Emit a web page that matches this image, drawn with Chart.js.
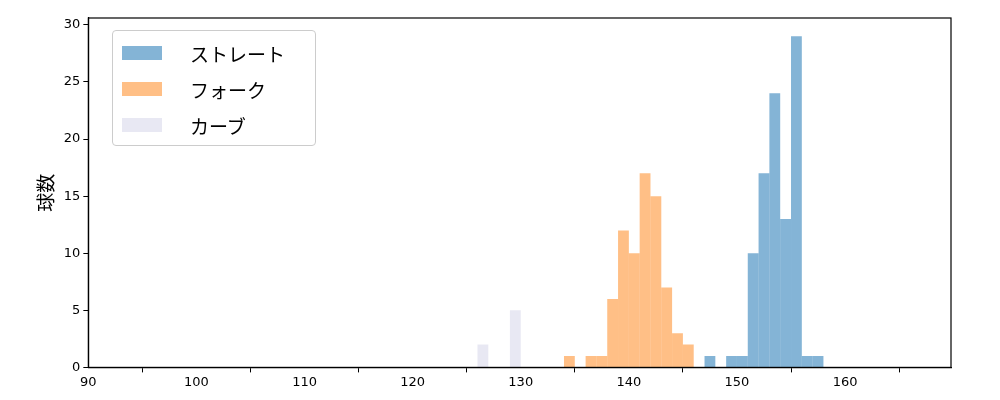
<!DOCTYPE html>
<html>
<head>
<meta charset="utf-8">
<script src="https://cdn.jsdelivr.net/npm/chart.js@4"></script>
<style>
  body { margin: 0; background: #fff; }
  #wrap { position: relative; width: 1000px; height: 400px; }
  #legend {
    position: absolute; left: 112px; top: 30px; width: 202px; height: 114px;
    border: 1px solid #ccc; border-radius: 4px; background: rgba(255,255,255,0.8);
    font-family: "Noto Sans CJK JP", sans-serif; font-size: 19px; color: #000;
  }
  .item { position: absolute; left: 9px; height: 20px; display: flex; align-items: center; }
  .box { width: 40px; height: 14px; margin-right: 28px; }
</style>
</head>
<body>
<div id="wrap">
  <canvas id="c" width="1000" height="400"></canvas>
  <div id="legend"></div>
</div>
<script>
// bin start (km/h), width 1
const straightBins = [147, 149, 150, 151, 152, 153, 154, 155, 156, 157];
const straightCounts = [1, 1, 1, 10, 17, 24, 13, 29, 1, 1];
const forkBins = [134, 136, 137, 138, 139, 140, 141, 142, 143, 144, 145];
const forkCounts = [1, 1, 1, 6, 12, 10, 17, 15, 7, 3, 2];
const curveBins = [126, 129];
const curveCounts = [2, 5];
const seriesNames = ["ストレート", "フォーク", "カーブ"];
const seriesColors = ["rgba(31,119,180,0.55)", "rgba(255,127,14,0.5)", "rgba(220,220,236,0.65)"];
const xTicks = [90, 100, 110, 120, 130, 140, 150, 160];
const yTicks = [0, 5, 10, 15, 20, 25, 30];

function toPoints(bins, counts) {
  return bins.map((b, i) => ({ x: b + 0.5, y: counts[i] }));
}

const allSeries = [
  toPoints(straightBins, straightCounts),
  toPoints(forkBins, forkCounts),
  toPoints(curveBins, curveCounts)
];

const tickFont = { family: "DejaVu Sans", size: 13 };
const axisGrid = { drawOnChartArea: false, drawTicks: true, tickLength: 5, color: "#000" };

new Chart(document.getElementById("c"), {
  type: "bar",
  data: {
    datasets: allSeries.map((pts, i) => ({
      label: seriesNames[i],
      data: pts,
      backgroundColor: seriesColors[i],
      borderWidth: 0,
      inflateAmount: 0,
      barPercentage: 1,
      categoryPercentage: 1,
      grouped: false
    }))
  },
  options: {
    responsive: false,
    animation: false,
    layout: { padding: { left: 30, right: 49, top: 18, bottom: 8 } },
    plugins: { legend: { display: false }, tooltip: { enabled: false } },
    scales: {
      x: {
        type: "linear", min: 90, max: 169.8, offset: false,
        grid: axisGrid,
        border: { color: "#000", width: 1.2 },
        ticks: { color: "#000", font: tickFont, padding: 2 },
        afterBuildTicks: (s) => { s.ticks = xTicks.map(v => ({ value: v })); }
      },
      y: {
        min: 0, max: 30.6,
        grid: axisGrid,
        border: { color: "#000", width: 1.2 },
        ticks: { color: "#000", font: tickFont },
        afterBuildTicks: (s) => { s.ticks = yTicks.map(v => ({ value: v })); },
        title: { display: true, text: "球数", color: "#000", font: { family: "Noto Sans CJK JP", size: 19 } }
      }
    }
  },
  plugins: [{
    id: "frame",
    afterDraw(chart) {
      const { ctx, chartArea: a } = chart;
      ctx.save();
      ctx.strokeStyle = "#000";
      ctx.lineWidth = 1.2;
      ctx.strokeRect(a.left, a.top, a.right - a.left, a.bottom - a.top);
      ctx.restore();
    }
  }]
});

const legend = document.getElementById("legend");
seriesNames.forEach((name, i) => {
  const d = document.createElement("div");
  d.className = "item";
  d.style.top = (12 + i * 36) + "px";
  d.innerHTML = `<span class="box" style="background:${seriesColors[i]}"></span>${name}`;
  legend.appendChild(d);
});
</script>
</body>
</html>
